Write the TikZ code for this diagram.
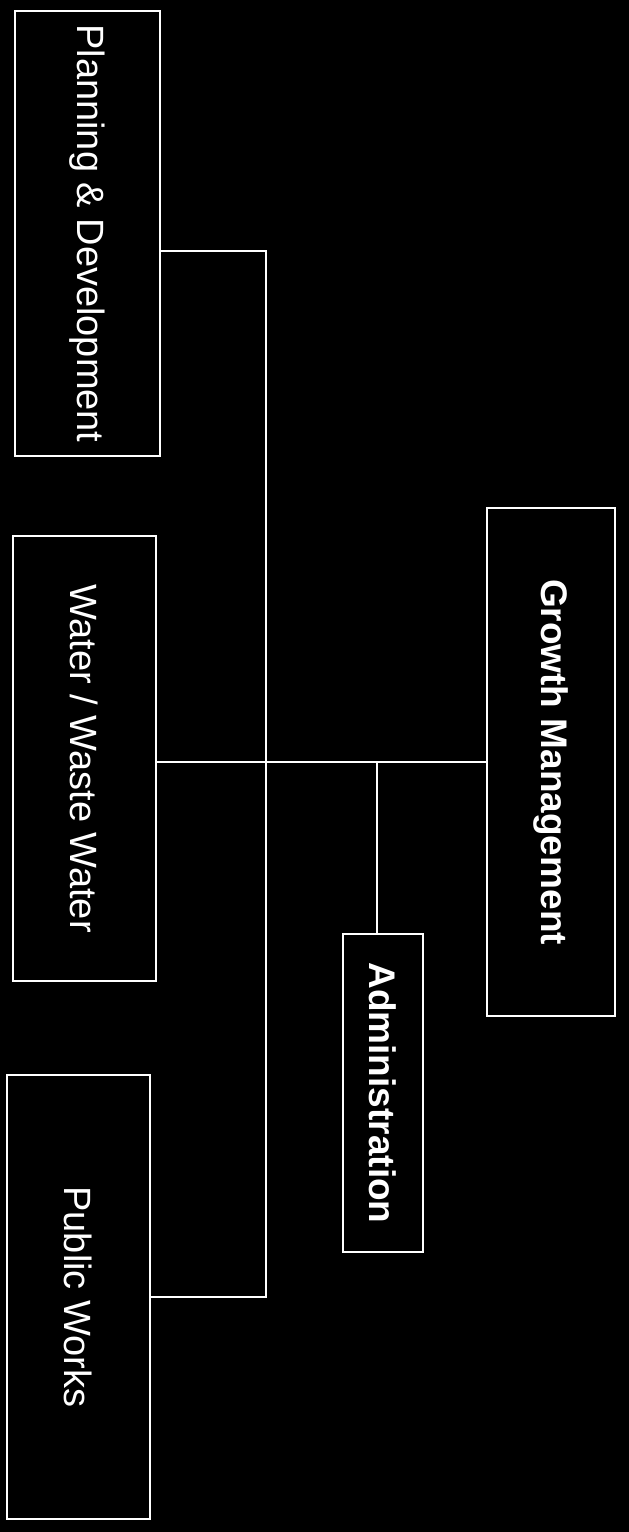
\documentclass[tikz,border=0pt]{standalone}
\usepackage{fontspec}
\setmainfont{Liberation Sans}
\usetikzlibrary{positioning}

\begin{document}
\begin{tikzpicture}[
    x=1pt, y=-1pt,
    unitbox/.style={draw=white, line width=2pt, fill=black, text=white,
                    rotate=-90, inner sep=0pt,
                    font=\fontsize{38}{40}\selectfont},
    headbox/.style={unitbox, font=\fontsize{37}{40}\selectfont\bfseries},
    link/.style={draw=white, line width=2pt}
  ]
  \fill[black] (0,0) rectangle (629,1532);
  \useasboundingbox (0,0) rectangle (629,1532);

  % departments
  \node[unitbox, minimum width=445pt, minimum height=145pt] (plan) at (87.5,233.5)
    {Planning \& Development};
  \node[unitbox, minimum width=445pt, minimum height=143pt] (water) at (84.5,758.5)
    {Water / Waste Water};
  \node[unitbox, minimum width=444pt, minimum height=143pt] (works) at (78.5,1297)
    {Public Works};
  \node[headbox, minimum width=318pt, minimum height=80pt] (admin) at (383,1093)
    {Administration};
  \node[headbox, minimum width=508pt, minimum height=128pt] (growth) at (551,762)
    {Growth Management};

  % connectors
  \coordinate (spine) at (266,251);
  \draw[link] (growth.south) -- (growth.south -| water.north);
  \draw[link] ([xshift=-6pt]admin.west) -- ([xshift=-6pt]admin.west |- growth.south);
  \draw[link] (plan.north |- spine) -- (spine) |- (works.north);
\end{tikzpicture}
\end{document}
